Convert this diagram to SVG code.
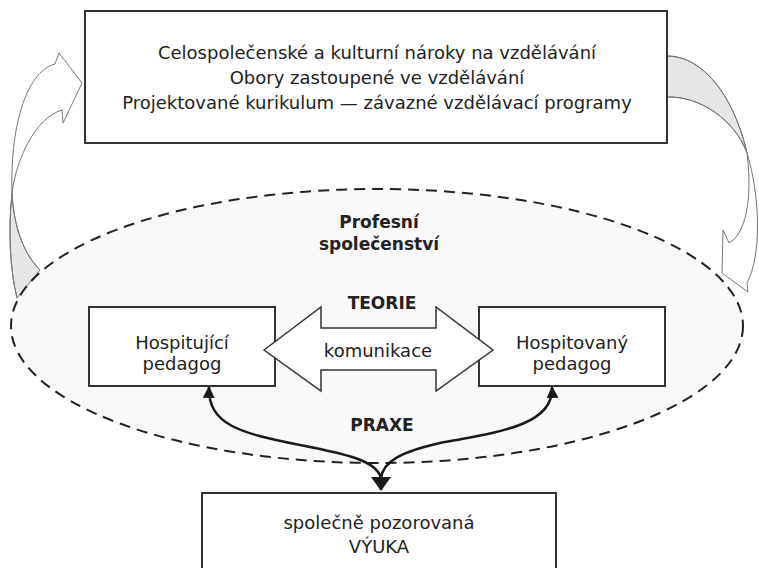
<svg xmlns="http://www.w3.org/2000/svg" width="759" height="568" viewBox="0 0 759 568">
<defs>
<style>
.box{fill:#fff;stroke:#333;stroke-width:2}
.t{font-family:"DejaVu Sans","Liberation Sans",sans-serif;font-size:18px;fill:#222;text-anchor:middle}
.b{font-family:"DejaVu Sans","Liberation Sans",sans-serif;font-size:17px;font-weight:bold;fill:#222;text-anchor:middle}
.cur{fill:none;stroke:#1a1a1a;stroke-width:2.5}
.big{stroke:#777;stroke-width:1;stroke-linejoin:round}
</style>
<marker id="ah" viewBox="0 0 12 12" refX="11" refY="6" markerWidth="12" markerHeight="12" markerUnits="userSpaceOnUse" orient="auto-start-reverse">
<path d="M0,0 L12,6 L0,12 Z" fill="#1a1a1a"/>
</marker>
<marker id="ahb" viewBox="0 0 14 20" refX="13" refY="10" markerWidth="14" markerHeight="20" markerUnits="userSpaceOnUse" orient="auto">
<path d="M0,0 L14,10 L0,20 Z" fill="#1a1a1a"/>
</marker>
</defs>
<rect width="759" height="568" fill="#fff"/>

<g id="community">
<ellipse cx="377" cy="326" rx="366" ry="137" fill="#f9f9f9" stroke="none"/>
</g>

<g id="loop-arrows">
<path class="big" d="M12,193 C8,230 10,270 17,298 L40,270 C25,255 14,230 12,193 Z" fill="#e6e6e6" stroke="none"/>
<path class="big" d="M17,298 C10,270 8,230 12,193 M40,270 C25,255 14,230 12,193" fill="none"/>
<path class="big" d="M12,193 C10,130 25,72 55,64 L59,53 L82,83 L63,123 L62,110 C35,118 16,160 12,193 Z" fill="#fff"/>
<path class="big" d="M667,56 C705,56 735,100 747,153 C735,120 700,96 667,97 Z" fill="#e6e6e6" stroke="none"/>
<path class="big" d="M667,56 C705,56 735,100 747,153 M667,97 C700,96 735,120 747,153" fill="none"/>
<path class="big" d="M747,153 C760,195 762,255 747,283 L748,292 L722,273 L723,230 L729,243 C745,235 753,200 747,153 Z" fill="#fff"/>
</g>

<g id="community-outline">
<ellipse cx="377" cy="326" rx="366" ry="137" fill="none" stroke="#222" stroke-width="2" stroke-dasharray="11 7"/>
<text class="b" x="379" y="228">Profesní</text>
<text class="b" x="379" y="250">společenství</text>
</g>

<g id="top-box">
<rect class="box" x="85" y="11" width="582" height="132"/>
<text class="t" x="377" y="59">Celospolečenské a kulturní nároky na vzdělávání</text>
<text class="t" x="377" y="84">Obory zastoupené ve vzdělávání</text>
<text class="t" x="377" y="109">Projektované kurikulum — závazné vzdělávací programy</text>
</g>

<g id="hospitujici">
<rect class="box" x="89" y="307" width="186" height="79"/>
<text class="t" x="182" y="349">Hospitující</text>
<text class="t" x="182" y="370">pedagog</text>
</g>

<g id="hospitovany">
<rect class="box" x="479" y="307" width="186" height="79"/>
<text class="t" x="572" y="349">Hospitovaný</text>
<text class="t" x="572" y="370">pedagog</text>
</g>

<g id="vyuka">
<rect class="box" x="202" y="493" width="354" height="90"/>
<text class="t" x="379" y="529">společně pozorovaná</text>
<text class="t" x="379" y="553">VÝUKA</text>
</g>

<g id="connectors">
<g id="komunikace">
<polygon points="264,350 321,307 321,328 436,328 436,307 493,350 436,391 436,370 321,370 321,391" fill="#fff" stroke="#333" stroke-width="1.5" stroke-linejoin="miter"/>
<text class="t" x="378" y="357">komunikace</text>
</g>
<text class="b" x="382" y="309">TEORIE</text>
<text class="b" x="382" y="431">PRAXE</text>
<path class="cur" d="M209,387 C208,425 240,433 300,445 C345,454 376,460 381,478" marker-start="url(#ah)"/>
<path class="cur" d="M552,387 C554,425 500,432 440,443 C400,452 383,462 381,478" marker-start="url(#ah)"/>
<path class="cur" d="M381,476 L381,490" marker-end="url(#ahb)" stroke="none"/>
</g>
</svg>
